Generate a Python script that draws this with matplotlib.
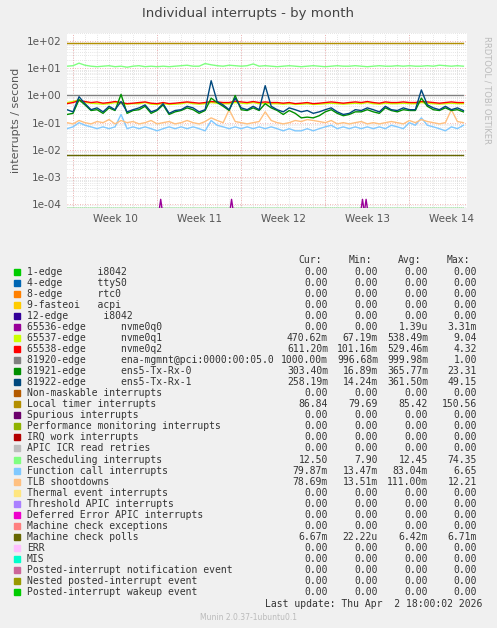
import matplotlib
matplotlib.use("Agg")
import matplotlib.pyplot as plt
import numpy as np

# time axis in days since left edge of the graph (half-day samples)
days = np.arange(67) * 0.5

ens5_rx1 = [0.30, 0.25, 0.90, 0.50, 0.30, 0.35, 0.25, 0.40, 0.30, 0.60, 0.25, 0.30,
            0.35, 0.45, 0.25, 0.30, 0.50, 0.22, 0.28, 0.30, 0.40, 0.35, 0.25, 0.30,
            3.50, 0.60, 0.45, 0.30, 0.80, 0.35, 0.30, 0.40, 0.30, 2.30, 0.40, 0.30,
            0.25, 0.35, 0.30, 0.25, 0.28, 0.22, 0.25, 0.30, 0.35, 0.25, 0.20, 0.22,
            0.30, 0.28, 0.35, 0.30, 0.25, 0.40, 0.30, 0.28, 0.35, 0.30, 0.30, 1.60,
            0.45, 0.35, 0.30, 0.40, 0.30, 0.35, 0.28]
ens5_rx0 = [0.20, 0.22, 0.70, 0.45, 0.28, 0.30, 0.22, 0.35, 0.28, 1.10, 0.22, 0.28,
            0.30, 0.40, 0.22, 0.28, 0.45, 0.20, 0.25, 0.28, 0.35, 0.30, 0.22, 0.28,
            0.80, 0.55, 0.40, 0.28, 1.00, 0.30, 0.28, 0.35, 0.28, 0.50, 0.35, 0.28,
            0.20, 0.28, 0.22, 0.15, 0.16, 0.15, 0.18, 0.25, 0.30, 0.22, 0.18, 0.20,
            0.25, 0.25, 0.30, 0.25, 0.22, 0.35, 0.28, 0.25, 0.30, 0.28, 0.28, 0.80,
            0.40, 0.30, 0.28, 0.35, 0.28, 0.30, 0.25]
nvme0q2 = [0.50, 0.55, 0.65, 0.60, 0.55, 0.58, 0.52, 0.55, 0.60, 0.55, 0.50, 0.52,
           0.55, 0.58, 0.52, 0.50, 0.55, 0.50, 0.52, 0.55, 0.58, 0.55, 0.52, 0.55,
           0.60, 0.58, 0.55, 0.55, 0.62, 0.58, 0.55, 0.60, 0.55, 0.58, 0.55, 0.55,
           0.52, 0.55, 0.50, 0.52, 0.55, 0.50, 0.52, 0.55, 0.58, 0.55, 0.52, 0.55,
           0.58, 0.55, 0.60, 0.55, 0.52, 0.58, 0.55, 0.55, 0.58, 0.55, 0.55, 0.60,
           0.58, 0.55, 0.52, 0.55, 0.58, 0.55, 0.55]
nvme0q1 = [0.55, 0.60, 0.70, 0.55, 0.52, 0.50, 0.48, 0.50, 0.55, 0.50, 0.48, 0.50,
           0.50, 0.55, 0.48, 0.47, 0.50, 0.47, 0.48, 0.50, 0.55, 0.50, 0.48, 0.50,
           0.55, 0.52, 0.50, 0.50, 0.55, 0.52, 0.50, 0.55, 0.50, 0.52, 0.50, 0.50,
           0.48, 0.50, 0.47, 0.48, 0.50, 0.47, 0.48, 0.50, 0.52, 0.50, 0.48, 0.50,
           0.52, 0.50, 0.55, 0.50, 0.48, 0.52, 0.50, 0.50, 0.52, 0.50, 0.50, 0.55,
           0.52, 0.50, 0.48, 0.50, 0.52, 0.50, 0.50]
tlb = [0.10, 0.09, 0.12, 0.10, 0.09, 0.11, 0.10, 0.13, 0.09, 0.12, 0.10, 0.11,
       0.09, 0.10, 0.12, 0.09, 0.10, 0.11, 0.09, 0.10, 0.12, 0.10, 0.09, 0.11,
       0.15, 0.12, 0.10, 0.30, 0.11, 0.10, 0.09, 0.10, 0.11, 0.25, 0.12, 0.10,
       0.09, 0.10, 0.12, 0.11, 0.13, 0.12, 0.11, 0.10, 0.12, 0.09, 0.10, 0.09,
       0.10, 0.11, 0.09, 0.10, 0.09, 0.10, 0.11, 0.10, 0.09, 0.12, 0.10, 0.13,
       0.11, 0.10, 0.09, 0.10, 0.30, 0.11, 0.10]
func_call = [0.06, 0.07, 0.10, 0.08, 0.07, 0.06, 0.07, 0.06, 0.07, 0.20, 0.06, 0.07,
             0.06, 0.07, 0.06, 0.05, 0.06, 0.07, 0.06, 0.07, 0.06, 0.07, 0.06, 0.05,
             0.12, 0.08, 0.07, 0.06, 0.07, 0.06, 0.07, 0.06, 0.07, 0.06, 0.07, 0.06,
             0.05, 0.06, 0.05, 0.05, 0.06, 0.05, 0.06, 0.07, 0.08, 0.06, 0.07, 0.06,
             0.07, 0.06, 0.07, 0.06, 0.07, 0.06, 0.08, 0.07, 0.06, 0.10, 0.08, 0.15,
             0.08, 0.07, 0.06, 0.05, 0.07, 0.06, 0.08]
resched = [12.0, 12.5, 15.5, 13.0, 12.0, 11.5, 12.0, 12.5, 11.5, 12.0, 11.0, 12.0,
           12.5, 11.5, 12.0, 11.5, 12.0, 11.5, 12.0, 12.5, 13.0, 12.0, 12.0, 15.0,
           13.5, 12.5, 12.0, 13.0, 12.5, 12.0, 12.5, 14.5, 12.0, 12.5, 12.0, 11.5,
           12.0, 12.5, 12.0, 11.5, 12.0, 12.5, 12.0, 11.5, 12.0, 12.5, 12.0, 12.0,
           12.5, 12.0, 11.5, 12.0, 12.5, 12.0, 12.0, 12.5, 12.0, 12.5, 12.0, 12.0,
           12.5, 12.0, 13.0, 12.5, 12.0, 12.5, 12.0]
local_timer = [86.0] * 67
ena_mgmnt = [1.0] * 67
mcp = [0.0067] * 67
# nvme0q0: short spikes (day, value)
nvme0q0_days = [7.8, 13.7, 24.6, 24.9]
nvme0q0_peak = [1.5e-4, 1.5e-4, 1.5e-4, 1.5e-4]

week_bounds = [0.5, 7.5, 14.5, 21.5, 28.5]
week_labels = ["Week 10", "Week 11", "Week 12", "Week 13", "Week 14"]

legend_names = [
    "1-edge      i8042", "4-edge      ttyS0", "8-edge      rtc0", "9-fasteoi   acpi",
    "12-edge      i8042", "65536-edge      nvme0q0", "65537-edge      nvme0q1",
    "65538-edge      nvme0q2", "81920-edge      ena-mgmnt@pci:0000:00:05.0",
    "81921-edge      ens5-Tx-Rx-0", "81922-edge      ens5-Tx-Rx-1",
    "Non-maskable interrupts", "Local timer interrupts", "Spurious interrupts",
    "Performance monitoring interrupts", "IRQ work interrupts", "APIC ICR read retries",
    "Rescheduling interrupts", "Function call interrupts", "TLB shootdowns",
    "Thermal event interrupts", "Threshold APIC interrupts", "Deferred Error APIC interrupts",
    "Machine check exceptions", "Machine check polls", "ERR", "MIS",
    "Posted-interrupt notification event", "Nested posted-interrupt event",
    "Posted-interrupt wakeup event",
]
legend_colors = [
    "#00CC00", "#0066B3", "#FF8000", "#FFCC00", "#330099", "#990099", "#CCFF00",
    "#FF0000", "#808080", "#008F00", "#00487D", "#B35A00", "#B38F00", "#6B006B",
    "#8FB300", "#B30000", "#BDBDBD", "#80FF80", "#80C9FF", "#FFC080", "#FFE680",
    "#AA80FF", "#EE00CC", "#FF8080", "#666600", "#FFBFFF", "#00FFCC", "#CC6699",
    "#999900", "#00CC00",
]
z = "0.00"
cur = [z, z, z, z, z, z, "470.62m", "611.20m", "1000.00m", "303.40m", "258.19m", z,
       "86.84", z, z, z, z, "12.50", "79.87m", "78.69m", z, z, z, z, "6.67m", z, z, z, z, z]
mn = [z, z, z, z, z, z, "67.19m", "101.16m", "996.68m", "16.89m", "14.24m", z,
      "79.69", z, z, z, z, "7.90", "13.47m", "13.51m", z, z, z, z, "22.22u", z, z, z, z, z]
avg = [z, z, z, z, z, "1.39u", "538.49m", "529.46m", "999.98m", "365.77m", "361.50m", z,
       "85.42", z, z, z, z, "12.45", "83.04m", "111.00m", z, z, z, z, "6.42m", z, z, z, z, z]
mx = [z, z, z, z, z, "3.31m", "9.04", "4.32", "1.00", "23.31", "49.15", z,
      "150.56", z, z, z, z, "74.35", "6.65", "12.21", z, z, z, z, "6.71m", z, z, z, z, z]

W, H = 497, 628
fig = plt.figure(figsize=(W / 100, H / 100), dpi=100, facecolor="#F0F0F0")
ax = fig.add_axes([67 / W, 1 - 208 / H, 400 / W, 175 / H])
ax.set_facecolor("white")
ax.set_yscale("log")
ax.set_xlim(0, 33.3)
ax.set_ylim(7.2e-5, 2.0e2)

# grid: minor gray, major red
for d in np.arange(0.5, 33.3, 1.0):
    ax.axvline(d, color="#CCCCCC", lw=0.5, ls=(0, (1, 2)), zorder=0)
for d in week_bounds:
    ax.axvline(d, color="#F0A0A0", lw=0.6, ls=(0, (1, 2)), zorder=0)
for e in range(-5, 3):
    for m in range(2, 10):
        ax.axhline(m * 10.0 ** e, color="#CCCCCC", lw=0.5, ls=(0, (1, 2)), zorder=0)
    ax.axhline(10.0 ** e, color="#F0A0A0", lw=0.6, ls=(0, (1, 2)), zorder=0)

lw = 1.0
bottom = 7.3e-5
ax.plot(days, [bottom] * 67, color="#00CC00", lw=lw)
for d, p in zip(nvme0q0_days, nvme0q0_peak):
    ax.plot([d - 0.1, d, d + 0.1], [bottom, p, bottom], color="#990099", lw=lw)
ax.plot(days, mcp, color="#666600", lw=lw)
ax.plot(days, func_call, color="#80C9FF", lw=lw)
ax.plot(days, tlb, color="#FFC080", lw=lw)
ax.plot(days, nvme0q1, color="#CCFF00", lw=lw)
ax.plot(days, nvme0q2, color="#FF0000", lw=lw)
ax.plot(days, ena_mgmnt, color="#808080", lw=lw)
ax.plot(days, ens5_rx0, color="#008F00", lw=lw)
ax.plot(days, ens5_rx1, color="#00487D", lw=lw)
ax.plot(days, resched, color="#80FF80", lw=lw)
ax.plot(days, local_timer, color="#B38F00", lw=lw)

ax.set_yticks([10.0 ** e for e in range(-4, 3)])
ax.set_yticklabels(["1e-04", "1e-03", "1e-02", "1e-01", "1e+00", "1e+01", "1e+02"])
ax.yaxis.set_minor_locator(matplotlib.ticker.NullLocator())
ax.set_xticks([b + 3.5 for b in week_bounds])
ax.set_xticklabels(week_labels)
ax.tick_params(labelsize=7.5, colors="#555555", length=0, pad=4)
for s in ax.spines.values():
    s.set_visible(False)
ax.set_ylabel("interrupts / second", fontsize=8, color="#555555")

fig.text(0.5, 1 - 14 / H, "Individual interrupts - by month", ha="center", va="center",
         fontsize=9.5, color="#444444")
fig.text(487 / W, 1 - 90 / H, "RRDTOOL / TOBI OETIKER", rotation=270, ha="center",
         va="center", fontsize=6, color="#BBBBBB")

mono = "DejaVu Sans Mono"
fs = 7
hy = 260
for txt, xr in zip(["Cur:", "Min:", "Avg:", "Max:"], [322, 372, 421, 470]):
    fig.text(xr / W, 1 - hy / H, txt, ha="right", va="center", family=mono, fontsize=fs,
             color="#333333")
for i, name in enumerate(legend_names):
    y = 1 - (272 + i * 11.03) / H
    fig.patches.append(plt.Rectangle((14 / W, y - 3 / H), 6 / W, 6 / H,
                                     transform=fig.transFigure, color=legend_colors[i]))
    fig.text(27 / W, y, name, ha="left", va="center", family=mono, fontsize=fs,
             color="#333333")
    for val, xr in zip([cur[i], mn[i], avg[i], mx[i]], [328, 378, 428, 477]):
        fig.text(xr / W, y, val, ha="right", va="center", family=mono, fontsize=fs,
                 color="#333333")

fig.text(482 / W, 1 - 604 / H, "Last update: Thu Apr  2 18:00:02 2026", ha="right",
         va="center", family=mono, fontsize=fs, color="#333333")
fig.text(0.5, 1 - 618 / H, "Munin 2.0.37-1ubuntu0.1", ha="center", va="center",
         fontsize=5.5, color="#BBBBBB")

fig.savefig("out.png", dpi=100, facecolor=fig.get_facecolor())
